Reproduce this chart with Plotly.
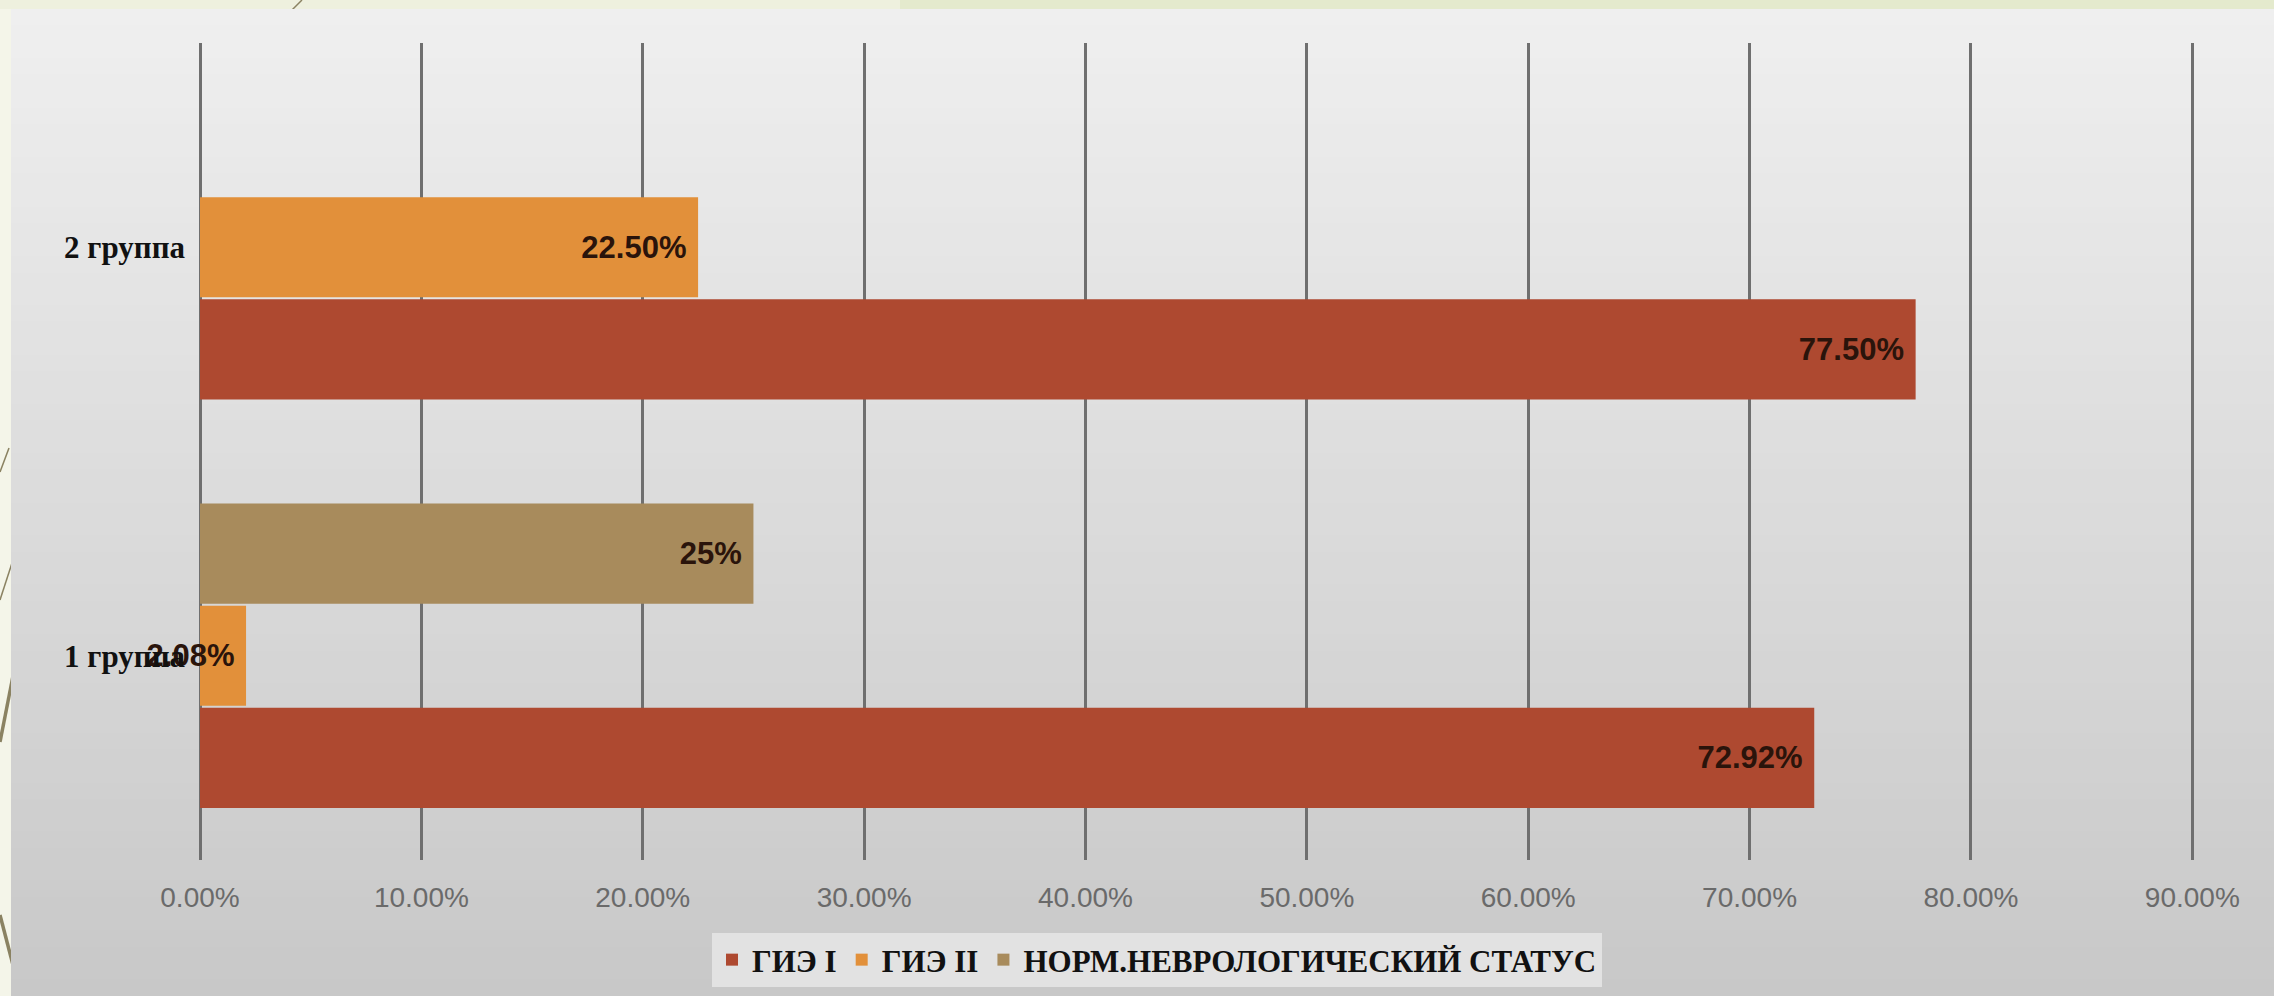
import plotly.graph_objects as go

# ---- data -------------------------------------------------------------
groups = ["1 группа", "2 группа"]
gie1 = [0.7292, 0.775]          # ГИЭ I
gie2 = [0.0208, 0.225]          # ГИЭ II
norm_status = [0.25, None]      # НОРМ.НЕВРОЛОГИЧЕСКИЙ СТАТУС
series_names = ["ГИЭ I", "ГИЭ II", "НОРМ.НЕВРОЛОГИЧЕСКИЙ СТАТУС"]
x_ticks = [0.0, 0.1, 0.2, 0.3, 0.4, 0.5, 0.6, 0.7, 0.8, 0.9]

# ---- layout constants -------------------------------------------------
W, H = 2274, 996
M_L, M_R, M_T, M_B = 200, 79, 43, 136
PW, PH = W - M_L - M_R, H - M_T - M_B


def px_x(x):
    """figure pixel column -> paper x"""
    return (x - M_L) / PW


def px_y(y):
    """figure pixel row (top-down) -> paper y"""
    return (H - M_B - y) / PH


colors = ["#ae4930", "#e2903a", "#a88b5c"]
label_font = dict(family="Liberation Sans, Arial, sans-serif", size=31,
                  color="#2a140b", weight="bold")

fig = go.Figure()
for vals, name, col, fmt in [
    (gie1, series_names[0], colors[0], "%{x:.2%}\u00a0"),
    (gie2, series_names[1], colors[1], "%{x:.2%}\u00a0"),
    (norm_status, series_names[2], colors[2], "%{x:.0%}\u00a0"),
]:
    fig.add_trace(go.Bar(
        y=groups, x=vals, name=name, orientation="h",
        marker=dict(color=col, line=dict(width=0)),
        texttemplate=fmt, textposition="inside", insidetextanchor="end",
        constraintext="none", textangle=0, cliponaxis=False,
        textfont=label_font,
    ))

# ---- background: slide colour, decorative strokes, grey gradient panel --
shapes = []
# pale strip along the top edge
shapes.append(dict(type="rect", xref="paper", yref="paper", layer="below",
                   x0=px_x(0), x1=px_x(W), y0=px_y(9), y1=px_y(0),
                   fillcolor="#eef0de", line=dict(width=0)))
shapes.append(dict(type="rect", xref="paper", yref="paper", layer="below",
                   x0=px_x(900), x1=px_x(W), y0=px_y(9), y1=px_y(0),
                   fillcolor="#e4eacd", line=dict(width=0)))
# olive template strokes at the left border
for (x0, y0, x1, y1, w) in [
    (302, 0, 292, 10, 1.5),
    (9, 448, 0, 472, 1.5),
    (13, 676, 0, 742, 3.5),
    (0, 915, 13, 965, 3.5),
    (13, 560, 0, 600, 1.5),
]:
    shapes.append(dict(type="line", xref="paper", yref="paper", layer="below",
                       x0=px_x(x0), y0=px_y(y0), x1=px_x(x1), y1=px_y(y1),
                       line=dict(color="#8a8262", width=w)))
# vertical grey gradient of the chart panel
top_rgb, bot_rgb = (239, 239, 239), (200, 200, 200)
n_strips = 60
p_top, p_bot = 9, H
for i in range(n_strips):
    t = i / (n_strips - 1)
    c = tuple(round(a + (b - a) * t) for a, b in zip(top_rgb, bot_rgb))
    ya = p_top + (p_bot - p_top) * i / n_strips
    yb = p_top + (p_bot - p_top) * (i + 1) / n_strips + 1
    shapes.append(dict(type="rect", xref="paper", yref="paper", layer="below",
                       x0=px_x(11), x1=px_x(W), y0=px_y(min(yb, H)), y1=px_y(ya),
                       fillcolor="rgb(%d,%d,%d)" % c, line=dict(width=0)))

fig.update_layout(
    width=W, height=H,
    margin=dict(l=M_L, r=M_R, t=M_T, b=M_B, pad=0),
    paper_bgcolor="#f4f5e9",
    plot_bgcolor="rgba(0,0,0,0)",
    barmode="group", bargap=0.25, bargroupgap=0.02,
    shapes=shapes,
    showlegend=True,
    legend=dict(
        orientation="h", traceorder="normal",
        xref="container", yref="container",
        x=1157 / W, xanchor="center", y=1 - 960 / H, yanchor="middle",
        bgcolor="#e2e2e2", borderwidth=0,
        font=dict(family="Liberation Serif, Times New Roman, serif", size=31,
                  color="#111111", weight="bold"),
        itemwidth=30, entrywidth=0, tracegroupgap=0,
    ),
    xaxis=dict(
        range=[0, 0.9012], tickvals=x_ticks, tickformat=".2%",
        showgrid=True, gridcolor="#6f6f6f", gridwidth=2.5,
        zeroline=True, zerolinecolor="#6f6f6f", zerolinewidth=2.5,
        showline=False, ticks="", ticklabelstandoff=18,
        tickfont=dict(family="Liberation Sans, Arial, sans-serif", size=28, color="#6a6a6a"),
        automargin=False, fixedrange=True,
    ),
    yaxis=dict(
        type="category", categoryorder="array", categoryarray=groups,
        range=[-0.5, 1.5],
        showgrid=False, zeroline=False, showline=False, ticks="",
        ticklabelstandoff=14,
        tickfont=dict(family="Liberation Serif, Times New Roman, serif", size=31,
                      color="#111111", weight="bold"),
        automargin=False, fixedrange=True,
    ),
    font=dict(family="Liberation Serif, serif"),
)

fig.write_html("out.html")
